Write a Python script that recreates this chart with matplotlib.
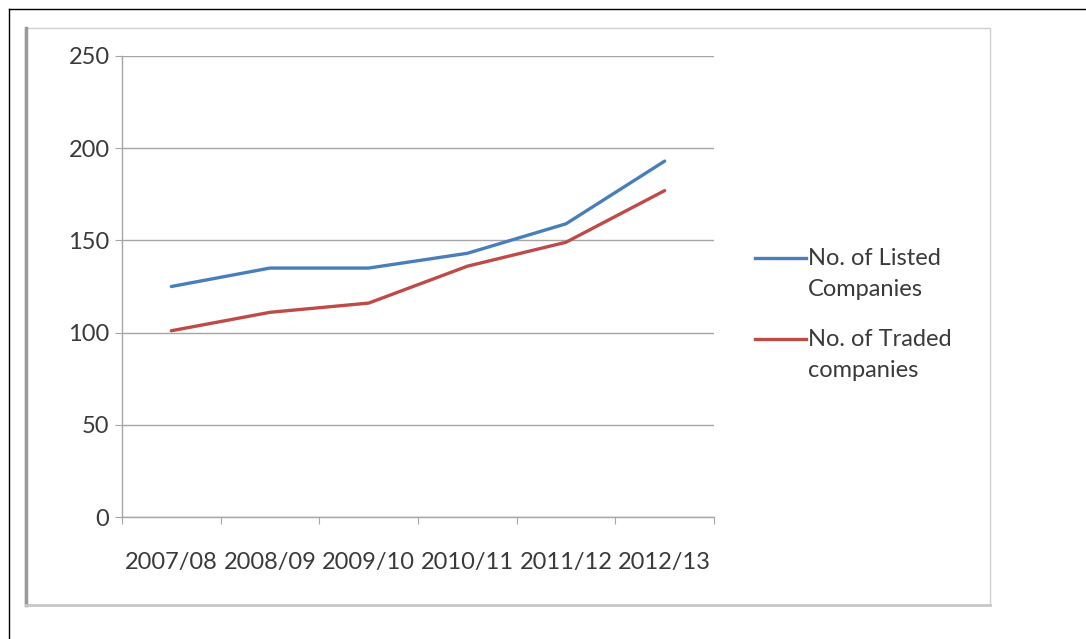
import numpy as np
import matplotlib.pyplot as plt
from matplotlib.lines import Line2D
from matplotlib.patches import Rectangle

years = ['2007/08', '2008/09', '2009/10', '2010/11', '2011/12', '2012/13']
listed = [125, 135, 135, 143, 159, 193]
traded = [101, 111, 116, 136, 149, 177]
series_names = ['No. of Listed\nCompanies', 'No. of Traded\ncompanies']
series_colors = ['#4a7ebb', '#be4b48']

plt.rcParams['font.family'] = ['Lato', 'DejaVu Sans']
txt = '#3a3a3a'
grid = '#a6a6a6'

fig = plt.figure(figsize=(10.86, 6.39), dpi=100)
W, H = 1086, 639

# outer black frame (top and left)
fig.add_artist(Line2D([9 / W, 1], [1 - 9 / H, 1 - 9 / H], color='black', lw=1))
fig.add_artist(Line2D([9 / W, 9 / W], [0, 1 - 9 / H], color='black', lw=1))

# chart area box
fig.add_artist(Rectangle((25 / W, 1 - 605 / H), 965 / W, 577 / H, transform=fig.transFigure,
                         facecolor='white', edgecolor='#d0d0d0', lw=1, zorder=-2))
fig.add_artist(Line2D([26 / W, 26 / W], [1 - 605 / H, 1 - 28 / H], color='#9a9a9a', lw=2.5, zorder=-1))
fig.add_artist(Line2D([26 / W, 990 / W], [1 - 605 / H, 1 - 605 / H], color='#c8c8c8', lw=2, zorder=-1))

ax = fig.add_axes([122 / W, 1 - 517 / H, 592 / W, 461 / H])
ax.set_zorder(2)
ax.set_facecolor('none')
x = np.arange(len(years))
for vals, name, c in zip([listed, traded], series_names, series_colors):
    ax.plot(x, vals, color=c, lw=2.4, solid_capstyle='round')

ax.set_xlim(-0.5, len(years) - 0.5)
ax.set_ylim(0, 250)
ax.set_yticks(np.arange(0, 251, 50))
ax.yaxis.grid(True, color=grid, lw=1)
ax.set_axisbelow(True)
for s in ['top', 'right']:
    ax.spines[s].set_visible(False)
for s in ['left', 'bottom']:
    ax.spines[s].set_color(grid)
    ax.spines[s].set_linewidth(1)

ax.set_xticks(np.arange(-0.5, len(years), 1))
ax.set_xticklabels([])
ax.set_xticks(x, minor=True)
ax.set_xticklabels(years, minor=True)
ax.tick_params(axis='x', which='major', length=5, color=grid, direction='out')
ax.tick_params(axis='x', which='minor', length=0, pad=25, labelsize=17, labelcolor=txt)
ax.tick_params(axis='y', length=5, color=grid, pad=4, labelsize=17, labelcolor=txt)

# legend
for i, (name, c) in enumerate(zip(series_names, series_colors)):
    yy = 1 - (258 + i * 81) / H
    fig.add_artist(Line2D([755 / W, 806 / W], [yy, yy], color=c, lw=2.4))
    fig.text(808 / W, yy + 10 / H, name, ha='left', va='top', fontsize=17,
             color=txt, linespacing=1.6)

fig.savefig('out.png', dpi=100)
